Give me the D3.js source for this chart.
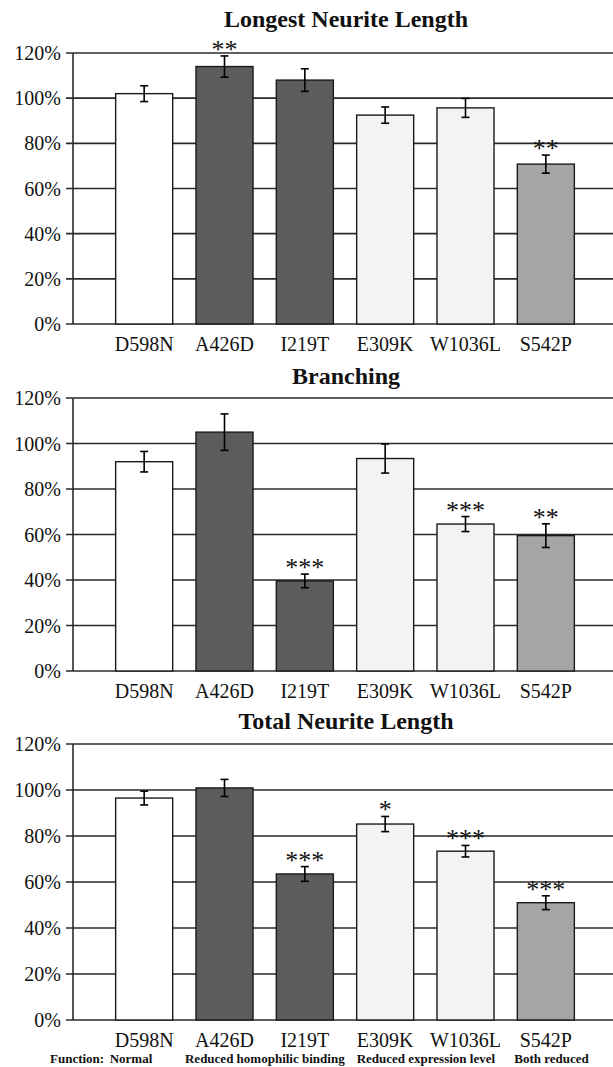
<!DOCTYPE html>
<html>
<head>
<meta charset="utf-8">
<script src="https://cdn.jsdelivr.net/npm/d3@7"></script>
<style>
  body { margin: 0; background: #fff; }
  text { font-family: "Liberation Serif", "Times New Roman", serif; fill: #111; }
</style>
</head>
<body>
<svg id="chart" width="613" height="1067"></svg>
<script>
// categories + grouping row
const categories = ["D598N", "A426D", "I219T", "E309K", "W1036L", "S542P"];
const groupLabels = ["Normal", "Reduced homophilic binding", "Reduced expression level", "Both reduced"];
const groupStart = ["D598N", "A426D", "E309K", "S542P"];
const barColors = ["#ffffff", "#5c5c5c", "#5c5c5c", "#f3f3f3", "#f3f3f3", "#a5a5a5"];
const yTicks = [0, 20, 40, 60, 80, 100, 120];

// panel titles
const titles = ["Longest Neurite Length", "Branching", "Total Neurite Length"];

// means (% of wild type), sem, significance stars
const longestMean = [102, 114, 108, 92.5, 95.7, 70.8];
const longestErr  = [3.5, 4.7, 5, 3.6, 4.2, 4];
const longestStars = ["", "**", "", "", "", "**"];

const branchMean = [92, 105, 39.6, 93.4, 64.6, 59.5];
const branchErr  = [4.5, 8, 3, 6.4, 3.3, 5.2];
const branchStars = ["", "", "***", "", "***", "**"];

const totalMean = [96.5, 100.9, 63.5, 85.2, 73.4, 51];
const totalErr  = [3, 3.7, 3.2, 3.3, 2.5, 3];
const totalStars = ["", "", "***", "*", "***", "***"];

const svg = d3.select("#chart");

let left = 73, right = 613;

var x = d3.scaleBand()
    .domain(categories)
    .range([104, 586])
    .paddingInner(0.29)
    .paddingOuter(0.145);

function drawPanel(title, means, errs, stars, top, bottom, titleGap, showGroups) {
    var y = d3.scaleLinear().domain([0, 120]).range([bottom, top]);
    var g = svg.append("g");

    // gridlines (with small tick stub on left)
    g.selectAll(".grid")
        .data(yTicks)
        .enter()
        .append("line")
        .attr("x1", left - 7)
        .attr("x2", right)
        .attr("y1", d => y(d))
        .attr("y2", d => y(d))
        .style("stroke", "#2a2a2a")
        .style("stroke-width", 1.6);

    g.append("line")
        .attr("x1", left).attr("x2", left)
        .attr("y1", y(120)).attr("y2", y(0))
        .style("stroke", "#2a2a2a")
        .style("stroke-width", 1.6);

    g.selectAll(".ylab")
        .data(yTicks)
        .enter()
        .append("text")
        .attr("x", left - 12)
        .attr("y", d => y(d) + 7)
        .attr("text-anchor", "end")
        .style("font-size", "20px")
        .text(d => d + "%");

    // bars
    g.selectAll(".bar")
        .data(means)
        .enter()
        .append("rect")
        .attr("x", (d, i) => x(categories[i]))
        .attr("width", x.bandwidth())
        .attr("y", d => y(d))
        .attr("height", d => y(0) - y(d))
        .style("fill", (d, i) => barColors[i])
        .style("stroke", "#1a1a1a")
        .style("stroke-width", 1.4);

    // error bars
    var eb = g.selectAll(".err")
        .data(means)
        .enter()
        .append("g")
        .attr("transform", (d, i) => "translate(" + (x(categories[i]) + x.bandwidth() / 2) + ",0)");
    eb.append("line")
        .attr("y1", (d, i) => y(d + errs[i]))
        .attr("y2", (d, i) => y(d - errs[i]))
        .style("stroke", "#000").style("stroke-width", 1.6);
    eb.append("line")
        .attr("x1", -4).attr("x2", 4)
        .attr("y1", (d, i) => y(d + errs[i]))
        .attr("y2", (d, i) => y(d + errs[i]))
        .style("stroke", "#000").style("stroke-width", 1.6);
    eb.append("line")
        .attr("x1", -4).attr("x2", 4)
        .attr("y1", (d, i) => y(d - errs[i]))
        .attr("y2", (d, i) => y(d - errs[i]))
        .style("stroke", "#000").style("stroke-width", 1.6);

    // significance
    g.selectAll(".star")
        .data(means)
        .enter()
        .append("text")
        .attr("x", (d, i) => x(categories[i]) + x.bandwidth() / 2)
        .attr("y", (d, i) => y(d + errs[i]) + 2)
        .attr("text-anchor", "middle")
        .style("font-size", "26px")
        .text((d, i) => stars[i]);

    g.append("text")
        .attr("x", 346)
        .attr("y", top - titleGap)
        .attr("text-anchor", "middle")
        .style("font-size", "24px")
        .style("font-weight", "bold")
        .text(title);

    g.selectAll(".xlab")
        .data(categories)
        .enter()
        .append("text")
        .attr("x", d => x(d) + x.bandwidth() / 2)
        .attr("y", bottom + 27)
        .attr("text-anchor", "middle")
        .style("font-size", "20px")
        .text(d => d);

    if (showGroups) {
        var fy = bottom + 43;
        g.append("text")
            .attr("x", 50)
            .attr("y", fy)
            .style("font-size", "13px")
            .style("font-weight", "bold")
            .text("Function:");
        var shift = [-6, -11, 0, -3];
        groupLabels.forEach(function (lab, k) {
            g.append("text")
                .attr("x", x(groupStart[k]) + shift[k])
                .attr("y", fy)
                .style("font-size", "13px")
                .style("font-weight", "bold")
                .text(lab);
        });
    }
}

drawPanel(titles[0], longestMean, longestErr, longestStars, 53, 324, 26, false);
drawPanel(titles[1], branchMean, branchErr, branchStars, 398, 671, 14, false);
drawPanel(titles[2], totalMean, totalErr, totalStars, 744, 1020, 15, true);
</script>
</body>
</html>
